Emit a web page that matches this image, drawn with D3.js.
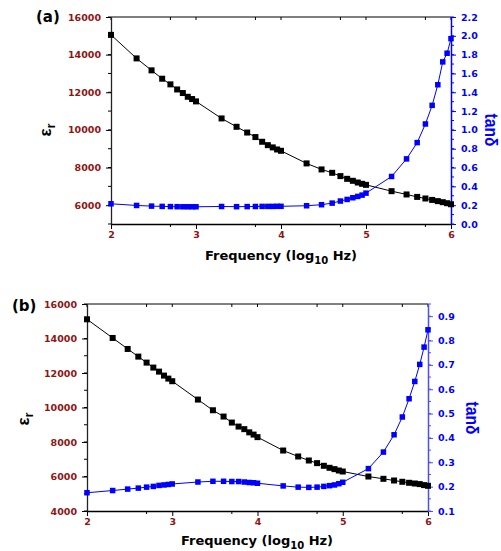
<!DOCTYPE html>
<html>
<head>
<meta charset="utf-8">
<script src="https://cdn.jsdelivr.net/npm/d3@7"></script>
<style>
  body { margin: 0; background: #fff; }
  svg { font-family: "DejaVu Sans", Verdana, sans-serif; font-weight: bold; }
  .tick text { font-weight: bold; }
</style>
</head>
<body>
<svg id="chart" width="501" height="551"></svg>
<script>
// frequencies (Hz), same for both samples
var freqHz = [100, 200, 300, 400, 500, 600, 700, 800, 900,
    1000, 2000, 3000, 4000, 5000, 6000, 7000, 8000, 9000,
    10000, 20000, 30000, 40000, 50000, 60000, 70000, 80000, 90000,
    100000, 200000, 300000, 400000, 500000, 600000, 700000, 800000, 900000,
    1000000];
var xTickLabels = ['2', '3', '4', '5', '6'];

// sample (a)
var epsA = [15050, 13800, 13165, 12720, 12420, 12150, 11960, 11760, 11640,
    11515, 10610, 10165, 9860, 9620, 9370, 9190, 9070, 8960,
    8890, 8220, 7900, 7720, 7545, 7400, 7295, 7205, 7135,
    7080, 6745, 6570, 6440, 6355, 6280, 6215, 6160, 6105,
    6050];
var tanA = [0.215, 0.197, 0.19, 0.187, 0.185, 0.184, 0.183, 0.183, 0.183,
    0.183, 0.186, 0.184, 0.185, 0.186, 0.187, 0.187, 0.187, 0.188,
    0.188, 0.194, 0.205, 0.222, 0.244, 0.261, 0.279, 0.293, 0.307,
    0.328, 0.505, 0.692, 0.865, 1.063, 1.261, 1.48, 1.723, 1.815,
    1.97];

// sample (b)
var epsB = [15114, 14031, 13394, 12950, 12603, 12314, 12080, 11850, 11675,
    11524, 10459, 9840, 9475, 9127, 8895, 8745, 8560, 8430,
    8282, 7506, 7160, 6928, 6775, 6620, 6504, 6427, 6347,
    6289, 5999, 5866, 5768, 5693, 5635, 5594, 5559, 5501,
    5461];
var tanB = [0.175, 0.184, 0.19, 0.194, 0.198, 0.201, 0.205, 0.207, 0.209,
    0.211, 0.219, 0.222, 0.222, 0.221, 0.221, 0.219, 0.217, 0.216,
    0.214, 0.203, 0.198, 0.197, 0.198, 0.201, 0.204, 0.207, 0.212,
    0.218, 0.274, 0.342, 0.413, 0.486, 0.561, 0.632, 0.702, 0.773,
    0.844];

var epsTicksA = [6000, 8000, 10000, 12000, 14000, 16000];
var tanTicksA = [0.0, 0.2, 0.4, 0.6, 0.8, 1.0, 1.2, 1.4, 1.6, 1.8, 2.0, 2.2];
var epsTicksB = [4000, 6000, 8000, 10000, 12000, 14000, 16000];
var tanTicksB = [0.1, 0.2, 0.3, 0.4, 0.5, 0.6, 0.7, 0.8, 0.9];

var darkRed = '#8e1515';
var blue = '#0000ff';

var svg = d3.select('#chart');

var panels = [
    {tag: '(a)', tagX: 36, tagY: 22, left: 111, right: 451, top: 17, bottom: 224,
     eps: epsA, tan: tanA, epsDom: [5000, 16000], tanDom: [0, 2.2],
     epsTicks: epsTicksA, epsMinor: 1000, tanTicks: tanTicksA, tanMinor: 0.1,
     epsLabel: [51, 130], tanLabel: [485, 130], xTitle: [281, 260], rightAxisColor: blue},
    {tag: '(b)', tagX: 12, tagY: 311, left: 87, right: 428, top: 304, bottom: 511,
     eps: epsB, tan: tanB, epsDom: [4000, 16000], tanDom: [0.1, 0.95],
     epsTicks: epsTicksB, epsMinor: 1000, tanTicks: tanTicksB, tanMinor: 0.05,
     epsLabel: [29, 419], tanLabel: [466, 418], xTitle: [257, 545], rightAxisColor: '#4d4dff'}
];

function range(a, b, step) {
    var out = [];
    for (var v = a; v <= b + step / 1000; v += step) out.push(+v.toFixed(4));
    return out;
}

panels.forEach(function(p) {
    var x = d3.scaleLog().domain([freqHz[0], freqHz[freqHz.length - 1]]).range([p.left, p.right]);
    var yL = d3.scaleLinear().domain(p.epsDom).range([p.bottom, p.top]);
    var yR = d3.scaleLinear().domain(p.tanDom).range([p.bottom, p.top]);
    var xMajor = freqHz.filter(function(f, i) { return i % 9 == 0; });
    var xMinor = freqHz.filter(function(f, i) { return [4, 13, 22, 31].indexOf(i) >= 0; });

    var g = svg.append('g');

    // top frame line with inward ticks
    g.append('line').attr('x1', p.left).attr('x2', p.right).attr('y1', p.top).attr('y2', p.top)
        .attr('stroke', '#000').attr('stroke-width', 1);
    g.selectAll('.ttick').data(xMajor.concat(xMinor)).enter().append('line')
        .attr('x1', x).attr('x2', x).attr('y1', p.top).attr('y2', p.top + 3)
        .attr('stroke', '#000');

    // bottom axis
    var xa = g.append('g').attr('transform', 'translate(0,' + p.bottom + ')')
        .call(d3.axisBottom(x).tickValues(xMajor).tickSize(5).tickSizeOuter(0).tickPadding(2)
            .tickFormat(function(d, i) { return xTickLabels[i]; }));
    xa.select('.domain').attr('stroke', '#000').attr('stroke-width', 1.3);
    xa.selectAll('.tick line').attr('stroke', '#000');
    xa.selectAll('.tick text').attr('fill', darkRed).attr('font-size', 9.5)
        .attr('font-family', '"DejaVu Sans", sans-serif');
    g.selectAll('.xminor').data(xMinor).enter().append('line')
        .attr('x1', x).attr('x2', x).attr('y1', p.bottom).attr('y2', p.bottom + 3)
        .attr('stroke', '#000');

    // left axis
    var la = g.append('g').attr('transform', 'translate(' + p.left + ',0)')
        .call(d3.axisLeft(yL).tickValues(p.epsTicks).tickSize(5).tickSizeOuter(0).tickPadding(5)
            .tickFormat(d3.format('d')));
    la.select('.domain').attr('stroke', '#222').attr('stroke-width', 1.3);
    la.selectAll('.tick text').attr('fill', darkRed).attr('font-size', 9.5)
        .attr('font-family', '"DejaVu Sans", sans-serif');
    g.selectAll('.lminor').data(range(p.epsDom[0], p.epsDom[1], p.epsMinor)).enter().append('line')
        .attr('x1', p.left - 3).attr('x2', p.left).attr('y1', yL).attr('y2', yL)
        .attr('stroke', '#000');

    // right axis
    var ra = g.append('g').attr('transform', 'translate(' + p.right + ',0)')
        .call(d3.axisRight(yR).tickValues(p.tanTicks).tickSize(5).tickSizeOuter(0).tickPadding(5)
            .tickFormat(d3.format('.1f')));
    ra.select('.domain').attr('stroke', p.rightAxisColor).attr('stroke-width', 1.5);
    ra.selectAll('.tick line').attr('stroke', p.rightAxisColor);
    ra.selectAll('.tick text').attr('fill', blue).attr('font-size', 9.5)
        .attr('font-family', '"DejaVu Sans", sans-serif');
    g.selectAll('.rminor').data(range(p.tanDom[0], p.tanDom[1], p.tanMinor)).enter().append('line')
        .attr('x1', p.right).attr('x2', p.right + 3).attr('y1', yR).attr('y2', yR)
        .attr('stroke', p.rightAxisColor);

    // series
    var series = [
        {vals: p.eps, y: yL, color: '#000', size: 6},
        {vals: p.tan, y: yR, color: blue, size: 5.5}
    ];
    series.forEach(function(s) {
        var line = d3.line()
            .x(function(d, i) { return x(freqHz[i]); })
            .y(function(d) { return s.y(d); });
        g.append('path').datum(s.vals).attr('d', line)
            .attr('fill', 'none').attr('stroke', s.color).attr('stroke-width', 1);
        g.selectAll(null).data(s.vals).enter().append('rect')
            .attr('x', function(d, i) { return x(freqHz[i]) - s.size / 2; })
            .attr('y', function(d) { return s.y(d) - s.size / 2; })
            .attr('width', s.size).attr('height', s.size)
            .attr('fill', s.color);
    });

    // titles
    g.append('text').attr('x', p.tagX).attr('y', p.tagY)
        .attr('font-size', 15).attr('fill', '#000').text(p.tag);

    var xt = g.append('text').attr('x', p.xTitle[0]).attr('y', p.xTitle[1])
        .attr('text-anchor', 'middle').attr('font-size', 13).attr('fill', '#000');
    xt.append('tspan').text('Frequency (log');
    xt.append('tspan').attr('font-size', 10).attr('dy', 3.5).text('10');
    xt.append('tspan').attr('dy', -3.5).text(' Hz)');

    var et = g.append('text')
        .attr('transform', 'translate(' + p.epsLabel[0] + ',' + p.epsLabel[1] + ') rotate(-90)')
        .attr('text-anchor', 'middle').attr('font-size', 17).attr('fill', '#000')
        .attr('font-family', '"Liberation Sans", Arial, sans-serif');
    et.append('tspan').text('ε');
    et.append('tspan').attr('font-size', 12).attr('dy', 4).text('r');

    g.append('text')
        .attr('transform', 'translate(' + p.tanLabel[0] + ',' + p.tanLabel[1] + ') rotate(90)')
        .attr('text-anchor', 'middle').attr('font-size', 18).attr('fill', blue)
        .attr('font-family', '"Liberation Sans", Arial, sans-serif')
        .attr('textLength', 33).attr('lengthAdjust', 'spacingAndGlyphs').text('tanδ');
});
</script>
</body>
</html>
